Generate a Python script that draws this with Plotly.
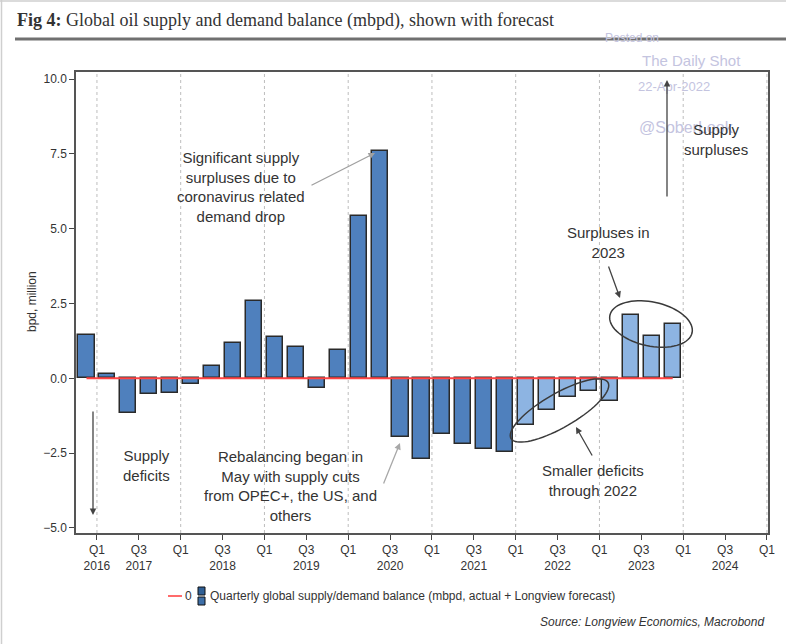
import math
import plotly.graph_objects as go

# ---------------- data ----------------
quarters = ["2015Q4", "2016Q1", "2016Q2", "2016Q3", "2016Q4", "2017Q1", "2017Q2",
            "2017Q3", "2017Q4", "2018Q1", "2018Q2", "2018Q3", "2018Q4", "2019Q1",
            "2019Q2", "2019Q3", "2019Q4", "2020Q1", "2020Q2", "2020Q3", "2020Q4",
            "2021Q1", "2021Q2", "2021Q3", "2021Q4", "2022Q1", "2022Q2", "2022Q3",
            "2022Q4"]
balance = [1.45, 0.14, -1.17, -0.54, -0.50, -0.18, 0.41, 1.19, 2.60, 1.39, 1.06,
           -0.33, 0.95, 5.44, 7.61, -1.97, -2.70, -1.86, -2.20, -2.37, -2.45,
           -1.57, -1.07, -0.64, -0.43, -0.76, 2.12, 1.41, 1.80]
n_actual = 21  # bars after this are Longview forecast

x_tick_labels = ["Q1<br>2016", "Q3<br>2017", "Q1", "Q3<br>2018", "Q1", "Q3<br>2019",
                 "Q1", "Q3<br>2020", "Q1", "Q3<br>2021", "Q1", "Q3<br>2022", "Q1",
                 "Q3<br>2023", "Q1", "Q3<br>2024", "Q1"]
y_ticks = [-5.0, -2.5, 0.0, 2.5, 5.0, 7.5, 10.0]

# ---------------- layout helpers ----------------
W, H = 786, 644
L, R, T, B = 76, 768, 72, 533


def px(x):
    return (x - L) / (R - L)


def py(y):
    return (B - y) / (B - T)


FONT = "Liberation Sans, Arial, sans-serif"
TXT = "#333333"
DARK = "#4f80bd"
LIGHT = "#8db4e2"

xpos = list(range(len(quarters)))
colors = [DARK if i < n_actual else LIGHT for i in xpos]
tickvals = [0.5 + 2 * k for k in range(len(x_tick_labels))]
grid_x = tickvals[::2]

fig = go.Figure()
fig.add_trace(go.Bar(
    x=xpos, y=balance, width=0.77, customdata=quarters,
    marker=dict(color=colors, line=dict(color="#2a2a2a", width=1.5)),
    hovertemplate="%{customdata}: %{y:.2f}<extra></extra>", showlegend=False))
fig.add_trace(go.Scatter(
    x=xpos, y=[0] * len(xpos), mode="lines",
    line=dict(color="#ff4444", width=2), showlegend=False, hoverinfo="skip"))

shapes = []
for gx in grid_x:
    shapes.append(dict(type="line", xref="x", yref="paper", x0=gx, x1=gx, y0=0, y1=1,
                       line=dict(color="#bdbdbd", width=1, dash="dot"), layer="below"))


def ellipse(cx, cy, a, b, ang):
    th = math.radians(ang)
    pts = []
    for k in range(73):
        t = 2 * math.pi * k / 72
        ex = cx + a * math.cos(t) * math.cos(th) - b * math.sin(t) * math.sin(th)
        ey = cy - (a * math.cos(t) * math.sin(th) + b * math.sin(t) * math.cos(th))
        pts.append((px(ex), py(ey)))
    path = "M " + " L ".join(f"{u:.5f},{v:.5f}" for u, v in pts) + " Z"
    return dict(type="path", xref="paper", yref="paper", path=path,
                line=dict(color="#3a3a3a", width=1.5))


shapes.append(ellipse(559.5, 410.5, 56, 17, 30))
shapes.append(ellipse(651, 324, 42, 22, -12))

# header rule and page border
shapes.append(dict(type="line", xref="paper", yref="paper", x0=px(15), x1=px(786),
                   y0=py(39), y1=py(39), line=dict(color="#707070", width=3)))
shapes.append(dict(type="line", xref="paper", yref="paper", x0=px(0), x1=px(786),
                   y0=py(1), y1=py(1), line=dict(color="#cfcfcf", width=1.5)))
shapes.append(dict(type="line", xref="paper", yref="paper", x0=px(1.5), x1=px(1.5),
                   y0=py(0), y1=py(644), line=dict(color="#cfcfcf", width=1.5)))

# legend marks
shapes.append(dict(type="line", xref="paper", yref="paper", x0=px(168), x1=px(182),
                   y0=py(596), y1=py(596), line=dict(color="#ff6b6b", width=2)))
shapes.append(dict(type="rect", xref="paper", yref="paper", x0=px(198), x1=px(205),
                   y0=py(587), y1=py(595), fillcolor="#2f5f95",
                   line=dict(color="#111", width=1)))
shapes.append(dict(type="rect", xref="paper", yref="paper", x0=px(198), x1=px(205),
                   y0=py(597), y1=py(605), fillcolor="#3d6fa8",
                   line=dict(color="#111", width=1)))

ann = []


def text(x, y, s, size=15, color=TXT, xanchor="center", family=FONT, **kw):
    ann.append(dict(x=px(x), y=py(y), xref="paper", yref="paper", text=s,
                    showarrow=False, xanchor=xanchor, yanchor="middle",
                    font=dict(size=size, color=color, family=family), **kw))


def arrow(tx, ty, hx, hy, color="#444", w=1.3):
    ann.append(dict(x=px(hx), y=py(hy), xref="paper", yref="paper", text="",
                    showarrow=True, ax=tx - hx, ay=ty - hy, arrowhead=2,
                    arrowsize=1, arrowwidth=w, arrowcolor=color))


# title
text(15, 21, "<b>Fig 4:</b> Global oil supply and demand balance (mbpd), shown with forecast",
     size=18, xanchor="left", family="Liberation Serif, Georgia, serif")

# watermark
WM = "#c4c4df"
text(632, 38, "Posted on", size=12, color=WM)
text(691, 60, "The Daily Shot", size=15, color=WM)
text(674, 86, "22-Apr-2022", size=13, color=WM)
text(686, 128, "@SoberLook", size=16, color=WM)

# annotations
text(241, 187, "Significant supply<br>surpluses due to<br>coronavirus related<br>demand drop")
arrow(310, 186, 375, 153, color="#a0a0a0")
text(146, 465, "Supply<br>deficits")
arrow(93, 410, 93, 515, color="#444")
text(290, 486, "Rebalancing began in<br>May with supply cuts<br>from OPEC+, the US, and<br>others")
arrow(383, 485, 400, 443, color="#a8a8a8")
text(593, 480, "Smaller deficits<br>through 2022")
arrow(593, 457, 576, 427, color="#444")
text(608, 243, "Surpluses in<br>2023")
arrow(608, 265, 620, 298, color="#444")
text(716, 139, "Supply<br>surpluses")
arrow(667, 198, 667, 80, color="#444")

# y axis title
text(32, 302, "bpd, million", size=12, textangle=-90)

# legend text
text(188, 596, "0", size=12)
text(208, 596, "Quarterly global supply/demand balance (mbpd, actual + Longview forecast)",
     size=12, xanchor="left")
# source
text(766, 622, "<i>Source: Longview Economics, Macrobond</i>", size=12, xanchor="right")

fig.update_layout(
    width=W, height=644,
    margin=dict(l=L, r=W - R, t=T, b=H - B, pad=0),
    paper_bgcolor="white", plot_bgcolor="white",
    font=dict(family=FONT, color=TXT, size=12),
    bargap=0, showlegend=False,
    shapes=shapes, annotations=ann,
    xaxis=dict(range=[-0.5, 32.55], tickmode="array", tickvals=tickvals,
               ticktext=x_tick_labels, ticks="outside", ticklen=5, tickcolor="#444",
               showline=True, linecolor="#555", linewidth=1.5, mirror=True,
               showgrid=False, zeroline=False, tickfont=dict(size=12, color=TXT)),
    yaxis=dict(range=[-5.17, 10.24], tickmode="array", tickvals=y_ticks,
               tickformat=".1f", ticks="outside", ticklen=5, tickcolor="#444",
               showline=True, linecolor="#555", linewidth=1.5, mirror=True,
               showgrid=False, zeroline=False, tickfont=dict(size=12, color=TXT)),
)

fig.write_html("out.html", config={"displayModeBar": False},
               post_script="document.body.style.margin='0';")
